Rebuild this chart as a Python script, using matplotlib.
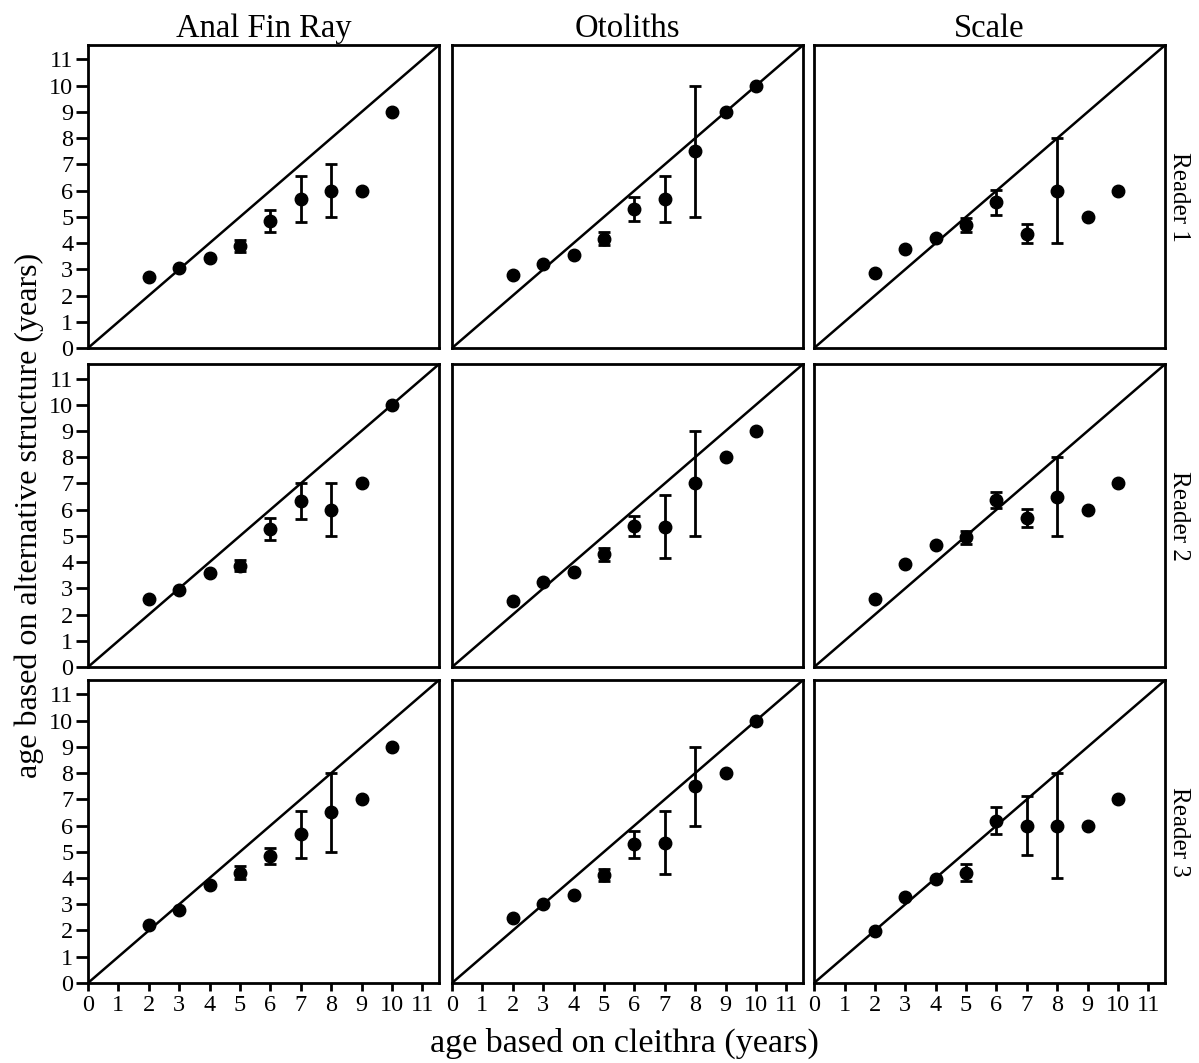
import numpy as np
import matplotlib.pyplot as plt

plt.rcParams['font.family'] = ['Liberation Serif', 'DejaVu Serif']

# cleithra age classes (x) for every panel
ages = [2, 3, 4, 5, 6, 7, 8, 9, 10]
structures = ['Anal Fin Ray', 'Otoliths', 'Scale']
readers = ['Reader 1', 'Reader 2', 'Reader 3']

# mean age from alternative structure, [reader][structure]
means = [
    [[2.7, 3.05, 3.42, 3.88, 4.84, 5.68, 6.0, 6.0, 9.0],
     [2.78, 3.2, 3.55, 4.17, 5.3, 5.68, 7.5, 9.0, 10.0],
     [2.85, 3.78, 4.2, 4.69, 5.55, 4.36, 6.0, 5.0, 6.0]],
    [[2.59, 2.94, 3.59, 3.87, 5.28, 6.33, 6.0, 7.0, 10.0],
     [2.53, 3.26, 3.63, 4.3, 5.37, 5.34, 7.0, 8.0, 9.0],
     [2.59, 3.94, 4.66, 4.95, 6.37, 5.67, 6.5, 6.0, 7.0]],
    [[2.22, 2.79, 3.74, 4.2, 4.84, 5.67, 6.5, 7.0, 9.0],
     [2.47, 3.0, 3.34, 4.12, 5.28, 5.35, 7.5, 8.0, 10.0],
     [1.97, 3.26, 3.96, 4.2, 6.19, 6.0, 6.0, 6.0, 7.0]],
]

# error bar half-widths
errors = [
    [[0, 0, 0, 0.22, 0.42, 0.88, 1.0, 0, 0],
     [0, 0, 0, 0.26, 0.46, 0.88, 2.5, 0, 0],
     [0, 0, 0, 0.25, 0.46, 0.35, 2.0, 0, 0]],
    [[0, 0, 0, 0.21, 0.42, 0.67, 1.0, 0, 0],
     [0, 0, 0, 0.25, 0.38, 1.2, 2.0, 0, 0],
     [0, 0, 0, 0.25, 0.32, 0.35, 1.5, 0, 0]],
    [[0, 0, 0, 0.24, 0.3, 0.9, 1.5, 0, 0],
     [0, 0, 0, 0.23, 0.5, 1.2, 1.5, 0, 0],
     [0, 0, 0, 0.33, 0.5, 1.14, 2.0, 0, 0]],
]

ticks = list(range(0, 12))
lim = 11.55

fig = plt.figure(figsize=(11.99, 10.63), dpi=100)

lefts = [0.0734, 0.377, 0.679]
bottoms = [0.6726, 0.3725, 0.0753]
w, h = 0.2928, 0.285

for r in range(3):
    for c in range(3):
        ax = fig.add_axes([lefts[c], bottoms[r], w, h])
        ax.axline((0, 0), slope=1, color='black', lw=1.8)
        ax.errorbar(ages, means[r][c], yerr=errors[r][c], fmt='o', color='black',
                    ms=9, elinewidth=2, capsize=4, capthick=2)
        ax.set_xlim(0, lim)
        ax.set_ylim(0, lim)
        for s in ax.spines.values():
            s.set_linewidth(2)
        ax.set_xticks(ticks)
        ax.set_yticks(ticks)
        ax.tick_params(direction='out', width=2, labelsize=17.5)
        ax.tick_params(axis='y', length=8.5, pad=2)
        ax.tick_params(axis='x', length=6, pad=3)
        if c != 0:
            ax.tick_params(axis='y', left=False, labelleft=False)
        if r != 2:
            ax.tick_params(axis='x', bottom=False, labelbottom=False)
        if r == 0:
            ax.set_title(structures[c], fontsize=23.5, pad=6)
        if c == 2:
            ax.text(1.04, 0.5, readers[r], transform=ax.transAxes, rotation=270,
                    va='center', ha='center', fontsize=18)

fig.text(0.012, 0.515, 'age based on alternative structure (years)', rotation=90,
         va='center', ha='left', fontsize=23)
fig.text(0.521, 0.004, 'age based on cleithra (years)', va='bottom', ha='center', fontsize=24.5)

fig.savefig('out.png', dpi=100)
